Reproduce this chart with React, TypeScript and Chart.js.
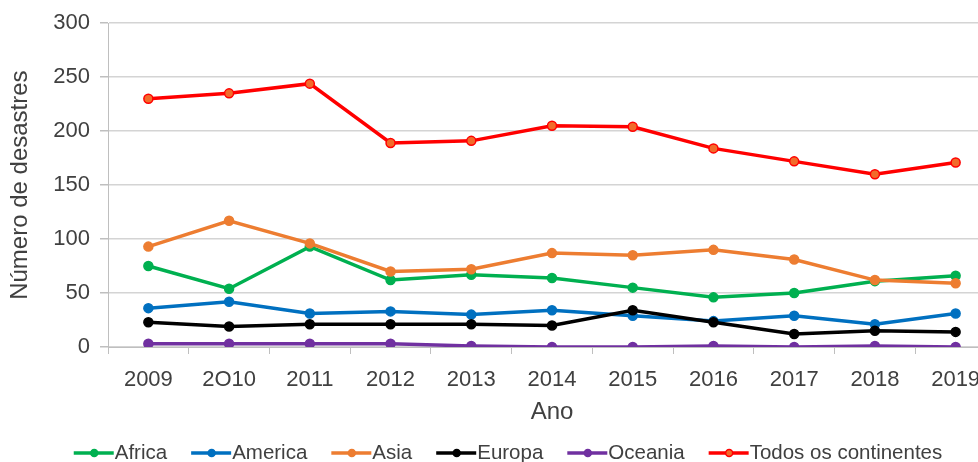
import React, { useEffect, useRef } from 'react';
import { Chart, registerables } from 'chart.js';

Chart.register(...registerables);

const years = ['2009', '2O10', '2011', '2012', '2013', '2014', '2015', '2016', '2017', '2018', '2019'];
const africa = [75, 54, 93, 62, 67, 64, 55, 46, 50, 61, 66];
const america = [36, 42, 31, 33, 30, 34, 29, 24, 29, 21, 31];
const asia = [93, 117, 96, 70, 72, 87, 85, 90, 81, 62, 59];
const europa = [23, 19, 21, 21, 21, 20, 34, 23, 12, 15, 14];
const oceania = [3, 3, 3, 3, 1, 0, 0, 1, 0, 1, 0];
const todos = [230, 235, 244, 189, 191, 205, 204, 184, 172, 160, 171];
const yTicks = [0, 50, 100, 150, 200, 250, 300];

const seriesNames = ['Africa', 'America', 'Asia', 'Europa', 'Oceania', 'Todos os continentes'];
const seriesData = [africa, america, asia, europa, oceania, todos];
const lineColors = ['#00B050', '#0070C0', '#ED7D31', '#000000', '#7030A0', '#FF0000'];
const fillColors = ['#00B050', '#0070C0', '#ED7D31', '#000000', '#7030A0', '#F26B2A'];

const FONT = "'Liberation Sans', Arial, sans-serif";
const TEXT = '#404040';

const legendPlugin = {
  id: 'customLegend',
  afterDraw(chart: any) {
    const ctx = chart.ctx as CanvasRenderingContext2D;
    ctx.save();
    ctx.font = `20.5px ${FONT}`;
    const lineW = 41;
    const gap = 24;
    const widths = seriesNames.map((n) => lineW + ctx.measureText(n).width);
    const total = widths.reduce((a, b) => a + b, 0) + gap * (seriesNames.length - 1);
    let x = 508 - total / 2;
    const y = 453;
    seriesNames.forEach((name, i) => {
      ctx.strokeStyle = lineColors[i];
      ctx.lineWidth = 3.5;
      ctx.beginPath();
      ctx.moveTo(x, y);
      ctx.lineTo(x + lineW - 1, y);
      ctx.stroke();
      ctx.beginPath();
      ctx.arc(x + lineW / 2, y, 3.5, 0, Math.PI * 2);
      ctx.fillStyle = fillColors[i];
      ctx.fill();
      ctx.lineWidth = 1.5;
      ctx.strokeStyle = lineColors[i];
      ctx.stroke();
      ctx.fillStyle = TEXT;
      ctx.textBaseline = 'middle';
      ctx.textAlign = 'left';
      ctx.fillText(name, x + lineW, y);
      x += widths[i] + gap;
    });
    ctx.restore();
  },
};

export default function App() {
  const ref = useRef<HTMLCanvasElement | null>(null);

  useEffect(() => {
    if (!ref.current) return;
    const chart = new Chart(ref.current, {
      type: 'line',
      data: {
        labels: years,
        datasets: seriesNames.map((name, i) => ({
          label: name,
          data: seriesData[i],
          borderColor: lineColors[i],
          backgroundColor: fillColors[i],
          pointBackgroundColor: fillColors[i],
          pointBorderColor: lineColors[i],
          pointBorderWidth: 1.5,
          pointRadius: 4.5,
          borderWidth: 3.5,
          tension: 0,
          order: 5 - i,
        })),
      },
      plugins: [legendPlugin],
      options: {
        responsive: false,
        animation: false,
        devicePixelRatio: 1,
        layout: { padding: { top: 10, left: 0, right: 0, bottom: 31 } },
        plugins: {
          tooltip: { enabled: false },
          legend: { display: false },
        },
        scales: {
          x: {
            offset: true,
            afterFit: (s: any) => {
              s.height = 84;
            },
            grid: { display: true, offset: true, drawOnChartArea: false, drawTicks: true, tickLength: 7, color: '#bfbfbf' },
            border: { display: true, color: '#bfbfbf' },
            ticks: { color: TEXT, font: { family: FONT, size: 22 }, padding: 13, maxRotation: 0, autoSkip: false },
            title: { display: true, text: 'Ano', color: TEXT, font: { family: FONT, size: 24 }, padding: { top: 4, bottom: 4 } },
          },
          y: {
            min: 0,
            max: 300,
            afterBuildTicks: (s: any) => {
              s.ticks = yTicks.map((v) => ({ value: v }));
            },
            afterFit: (s: any) => {
              s.width = 108;
            },
            grid: { color: '#d4d4d4', lineWidth: 1.5, tickLength: 8, drawTicks: true, tickColor: '#bfbfbf' },
            border: { display: true, color: '#bfbfbf' },
            ticks: { color: TEXT, font: { family: FONT, size: 22 }, padding: 10 },
            title: { display: true, text: 'Número de desastres', color: TEXT, font: { family: FONT, size: 24 }, padding: { top: 6, bottom: 4 } },
          },
          y2: {
            position: 'right',
            display: true,
            grid: { display: false, drawTicks: false },
            border: { display: false },
            ticks: { display: false },
            afterFit: (s: any) => {
              s.width = 30;
            },
          },
        },
      },
    } as any);
    return () => chart.destroy();
  }, []);

  return (
    <div style={{ position: 'fixed', left: 0, top: 0, width: 978, height: 462, overflow: 'hidden', background: '#ffffff' }}>
      <canvas ref={ref} width={1026} height={462} style={{ width: 1026, height: 462, display: 'block' }} />
    </div>
  );
}
